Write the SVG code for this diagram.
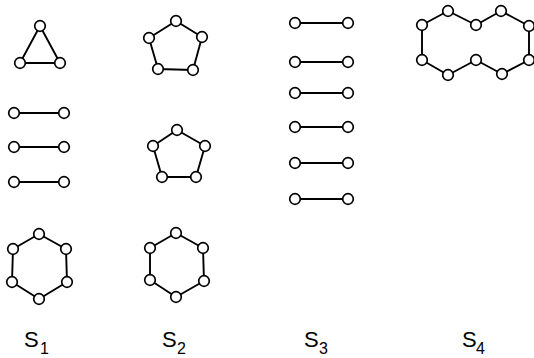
<svg xmlns="http://www.w3.org/2000/svg" width="534" height="358" viewBox="0 0 534 358">
<style>
.e{stroke:#000;stroke-width:1.9;fill:none;stroke-linejoin:round}
.n circle{fill:#fff;stroke:#000;stroke-width:1.7}
.lab{font-family:"Liberation Sans",Arial,sans-serif;fill:#000}
</style>
<rect width="534" height="358" fill="#fff"/>
<g id="connectors" class="e">
<polygon points="40,26 60,63 20,63"/>
<line x1="14" y1="113" x2="64" y2="113"/>
<line x1="14" y1="147" x2="64" y2="147"/>
<line x1="14" y1="182" x2="64" y2="182"/>
<polygon points="39,234 66,249 67,282 39,299 12,282 13,249"/>
<polygon points="176,21 202,37 193,70 158,69 149,38"/>
<polygon points="177,130 205,146 196,177 162,177 153,146"/>
<polygon points="176,233 203,248 204,281 176,297 150,280 150,248"/>
<line x1="295" y1="23" x2="348" y2="23"/>
<line x1="295" y1="62" x2="348" y2="62"/>
<line x1="295" y1="93" x2="348" y2="93"/>
<line x1="295" y1="127" x2="348" y2="127"/>
<line x1="295" y1="163" x2="348" y2="163"/>
<line x1="295" y1="199" x2="348" y2="199"/>
<polygon points="422,25 448,11 476,25 501,11 529,26 529,60 502,74 476,60 448,75 422,60"/>
</g>
<g id="s1-triangle" class="n"><circle cx="40" cy="26" r="5.3"/><circle cx="60" cy="63" r="5.3"/><circle cx="20" cy="63" r="5.3"/></g>
<g id="s1-edge1" class="n"><circle cx="14" cy="113" r="5.3"/><circle cx="64" cy="113" r="5.3"/></g>
<g id="s1-edge2" class="n"><circle cx="14" cy="147" r="5.3"/><circle cx="64" cy="147" r="5.3"/></g>
<g id="s1-edge3" class="n"><circle cx="14" cy="182" r="5.3"/><circle cx="64" cy="182" r="5.3"/></g>
<g id="s1-hexagon" class="n"><circle cx="39" cy="234" r="5.3"/><circle cx="66" cy="249" r="5.3"/><circle cx="67" cy="282" r="5.3"/><circle cx="39" cy="299" r="5.3"/><circle cx="12" cy="282" r="5.3"/><circle cx="13" cy="249" r="5.3"/></g>
<g id="s2-pentagon1" class="n"><circle cx="176" cy="21" r="5.3"/><circle cx="202" cy="37" r="5.3"/><circle cx="193" cy="70" r="5.3"/><circle cx="158" cy="69" r="5.3"/><circle cx="149" cy="38" r="5.3"/></g>
<g id="s2-pentagon2" class="n"><circle cx="177" cy="130" r="5.3"/><circle cx="205" cy="146" r="5.3"/><circle cx="196" cy="177" r="5.3"/><circle cx="162" cy="177" r="5.3"/><circle cx="153" cy="146" r="5.3"/></g>
<g id="s2-hexagon" class="n"><circle cx="176" cy="233" r="5.3"/><circle cx="203" cy="248" r="5.3"/><circle cx="204" cy="281" r="5.3"/><circle cx="176" cy="297" r="5.3"/><circle cx="150" cy="280" r="5.3"/><circle cx="150" cy="248" r="5.3"/></g>
<g id="s3-edge1" class="n"><circle cx="295" cy="23" r="5.3"/><circle cx="348" cy="23" r="5.3"/></g>
<g id="s3-edge2" class="n"><circle cx="295" cy="62" r="5.3"/><circle cx="348" cy="62" r="5.3"/></g>
<g id="s3-edge3" class="n"><circle cx="295" cy="93" r="5.3"/><circle cx="348" cy="93" r="5.3"/></g>
<g id="s3-edge4" class="n"><circle cx="295" cy="127" r="5.3"/><circle cx="348" cy="127" r="5.3"/></g>
<g id="s3-edge5" class="n"><circle cx="295" cy="163" r="5.3"/><circle cx="348" cy="163" r="5.3"/></g>
<g id="s3-edge6" class="n"><circle cx="295" cy="199" r="5.3"/><circle cx="348" cy="199" r="5.3"/></g>
<g id="s4-ring" class="n"><circle cx="422" cy="25" r="5.3"/><circle cx="448" cy="11" r="5.3"/><circle cx="476" cy="25" r="5.3"/><circle cx="501" cy="11" r="5.3"/><circle cx="529" cy="26" r="5.3"/><circle cx="529" cy="60" r="5.3"/><circle cx="502" cy="74" r="5.3"/><circle cx="476" cy="60" r="5.3"/><circle cx="448" cy="75" r="5.3"/><circle cx="422" cy="60" r="5.3"/></g>
<g id="labels" class="lab">
<text x="24" y="347" font-size="22">S<tspan x="40" y="354" font-size="16">1</tspan></text>
<text x="162" y="347" font-size="22">S<tspan x="177" y="354" font-size="16">2</tspan></text>
<text x="304" y="347" font-size="22">S<tspan x="319" y="354" font-size="16">3</tspan></text>
<text x="462" y="347" font-size="22">S<tspan x="476" y="354" font-size="16">4</tspan></text>
</g>
</svg>
